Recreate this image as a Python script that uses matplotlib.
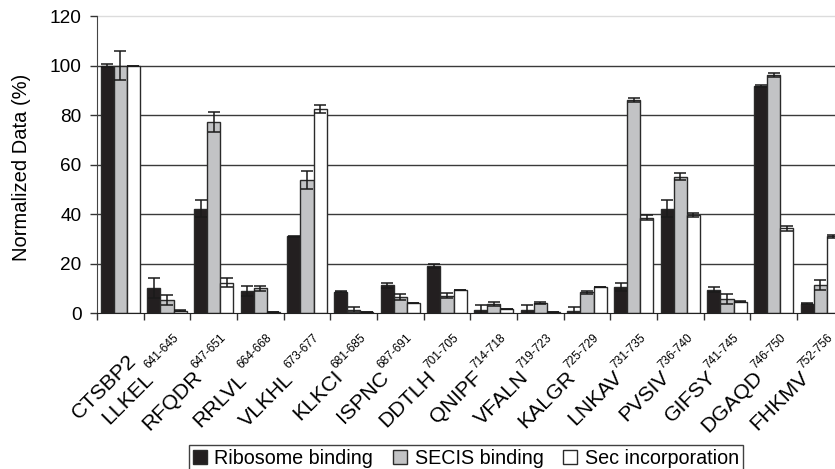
import numpy as np
import matplotlib
matplotlib.use("Agg")
import matplotlib.pyplot as plt
from matplotlib.patches import Patch
from matplotlib.font_manager import FontProperties

plt.rcParams['font.family'] = ['Liberation Sans', 'DejaVu Sans']

peptides = ["CTSBP2", "LLKEL", "RFQDR", "RRLVL", "VLKHL", "KLKCI", "ISPNC", "DDTLH",
            "QNIPF", "VFALN", "KALGR", "LNKAV", "PVSIV", "GIFSY", "DGAQD", "FHKMV"]
ranges = ["", "641-645", "647-651", "664-668", "673-677", "681-685", "687-691", "701-705",
          "714-718", "719-723", "725-729", "731-735", "736-740", "741-745", "746-750", "752-756"]
spaced = [False, True, False, True, True, False, False, False,
          False, False, False, False, False, False, False, False]

ribosome = [100, 10.1, 42.2, 8.9, 31.0, 8.6, 11.2, 19.0, 1.2, 1.1, 0.8, 10.6, 42.2, 9.4, 91.7, 3.8]
ribosome_err = [0.5, 4.0, 3.5, 2.0, 0.3, 0.3, 1.0, 0.7, 2.0, 2.2, 1.5, 1.7, 3.5, 1.0, 0.3, 0.3]
secis = [100, 5.4, 77.2, 10.0, 53.7, 1.4, 6.6, 7.0, 3.6, 4.0, 8.3, 86.0, 55.1, 5.8, 96.2, 11.3]
secis_err = [6.0, 2.0, 4.2, 1.0, 3.7, 1.0, 1.2, 1.0, 0.7, 0.3, 0.6, 0.8, 1.4, 2.0, 0.8, 2.0]
sec_inc = [100, 1.0, 12.3, 0.5, 82.6, 0.5, 4.2, 9.4, 1.7, 0.5, 10.6, 38.4, 39.6, 4.6, 34.3, 31.1]
sec_inc_err = [0.0, 0.3, 1.8, 0.0, 1.6, 0.0, 0.0, 0.0, 0.0, 0.0, 0.0, 1.0, 1.0, 0.3, 1.0, 0.6]

series = [("Ribosome binding", ribosome, ribosome_err, "#231f20"),
          ("SECIS binding", secis, secis_err, "#c2c3c5"),
          ("Sec incorporation", sec_inc, sec_inc_err, "#ffffff")]

DPI = 100
fig = plt.figure(figsize=(8.35, 4.69), dpi=DPI)
ax = fig.add_axes([97 / 835, 1 - 313 / 469, (843.7 - 97) / 835, (313 - 16) / 469])

x = np.arange(len(peptides))
w = 0.28
for i, (name, vals, errs, col) in enumerate(series):
    pos = x + (i - 1) * w
    ax.bar(pos, vals, width=w, color=col, edgecolor="#2a2a2a", linewidth=1.0, zorder=2)
    ax.errorbar(pos, vals, yerr=errs, fmt="none", ecolor="#1a1a1a", elinewidth=1.1,
                capsize=4, capthick=1.1, zorder=3)

ax.set_xlim(-0.5, len(peptides) - 0.5)
ax.set_ylim(0, 120)
ax.set_yticks(np.arange(0, 121, 20))
for yv in range(20, 101, 20):
    ax.axhline(yv, color="#3a3a3a", linewidth=1.0, zorder=1)
ax.axhline(120, color="#dcdcdc", linewidth=1.0, zorder=1, clip_on=False)

ax.set_xticks(np.arange(-0.5, len(peptides) - 0.4, 1.0))
ax.set_xticklabels([])
ax.tick_params(axis="x", direction="out", length=5, width=1, color="#333333")
ax.tick_params(axis="y", direction="out", length=5, width=1, color="#333333",
               labelsize=13.7, pad=6)

for s in ("top", "right"):
    ax.spines[s].set_visible(False)
ax.spines["left"].set_color("#444444")
ax.spines["bottom"].set_color("#222222")

# Rotated category labels: name plus a smaller raised residue range
main_size = 15.3
sup_size = 8.6
renderer = fig.canvas.get_renderer()
sup_prop = FontProperties(family="Liberation Sans", size=sup_size)
main_prop = FontProperties(family="Liberation Sans", size=main_size)
u = np.array([np.cos(np.pi / 4), np.sin(np.pi / 4)])    # along text (pixels, y up)
n = np.array([-np.sin(np.pi / 4), np.cos(np.pi / 4)])   # text "up"
space_w = renderer.get_text_width_height_descent(" ", main_prop, ismath=False)[0]

for xi, name, rng, sp in zip(x, peptides, ranges, spaced):
    kw = dict(xy=(xi, 0), xycoords=("data", "axes fraction"), textcoords="offset pixels",
              rotation=45, rotation_mode="anchor", ha="right", va="top")
    if not rng:
        ax.annotate(name, xytext=(6, -38), fontsize=main_size, **kw)
        continue
    end = np.array([6.0, -19.0])
    ax.annotate(rng, xytext=tuple(end), fontsize=sup_size, **kw)
    sw = renderer.get_text_width_height_descent(rng, sup_prop, ismath=False)[0]
    gap = sw + (0.6 * space_w if sp else 0.5)
    start = end - u * gap - n * 6.0
    ax.annotate(name, xytext=tuple(start), fontsize=main_size, **kw)

ax.set_ylabel("Normalized Data (%)", fontsize=14.5)
ax.yaxis.set_label_coords(-0.088, 0.49)

handles = [Patch(facecolor=c, edgecolor="#2a2a2a", linewidth=1.0) for _, _, _, c in series]
leg = fig.legend(handles, [s[0] for s in series], loc="upper center",
                 bbox_to_anchor=(466 / 835, 1 - 435 / 469), ncol=3, fontsize=14.2,
                 frameon=True, fancybox=False, edgecolor="#111111",
                 handlelength=0.7, handleheight=0.7, handletextpad=0.4,
                 columnspacing=1.0, borderpad=0.2)
leg.get_frame().set_linewidth(1.0)

fig.savefig("out.png", dpi=DPI)
